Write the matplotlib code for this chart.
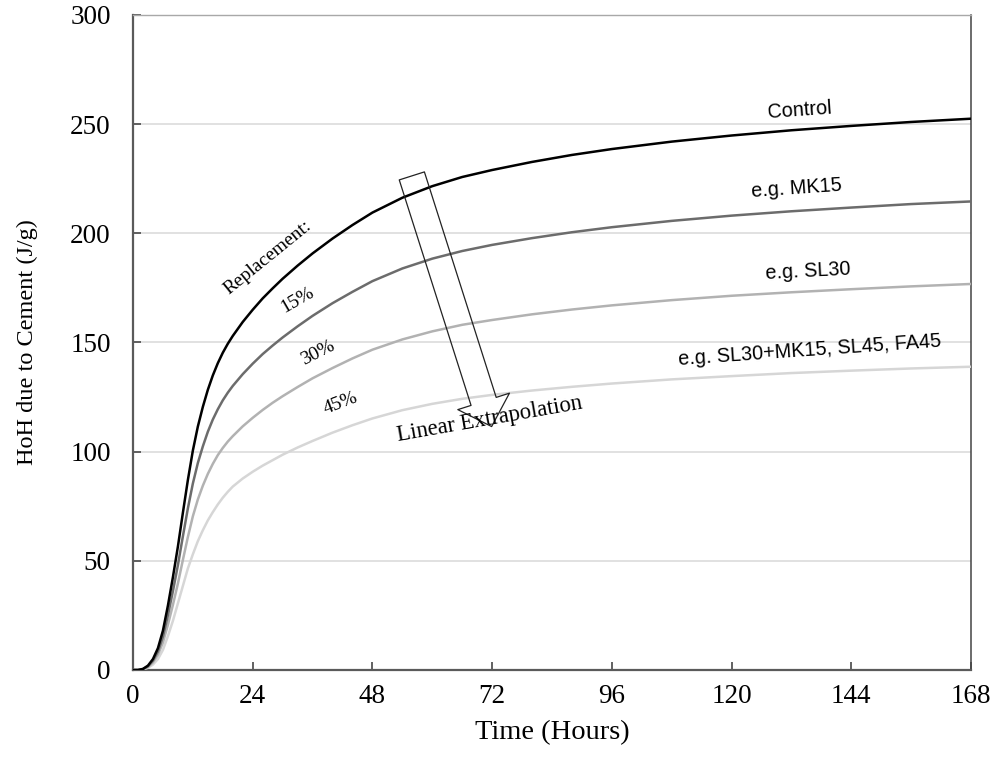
import matplotlib
matplotlib.use('Agg')
import matplotlib.pyplot as plt
from matplotlib.patches import FancyArrowPatch

# Heat of hydration due to cement (J/g) vs time (hours)
hours = [0, 1, 2, 3, 4, 5, 6, 7, 8, 9, 10, 11, 12, 13, 14, 15, 16, 17, 18, 19, 20,
         22, 24, 26, 28, 30, 33, 36, 40, 44, 48, 54, 60, 66, 72, 80, 88, 96,
         108, 120, 132, 144, 156, 168]

control = [0, 0, 0.5, 2, 5, 10, 18, 29.5, 42.5, 56.5, 72, 87, 100.5, 111.5, 120.5, 128.3,
           134.9, 140.5, 145.3, 149.4, 153.0, 159.4, 165.0, 170.2, 174.8, 179.2, 185.2,
           190.8, 197.6, 203.8, 209.5, 216.3, 221.6, 225.8, 229.0, 232.7, 235.9, 238.6,
           242.0, 244.8, 247.2, 249.2, 251.0, 252.5]

mk15 = [0, 0, 0.4, 1.7, 4.3, 8.5, 15.3, 25.1, 36.1, 48.0, 61.2, 74.0, 85.4, 94.8, 102.4,
        109.1, 114.7, 119.4, 123.5, 127.0, 130.1, 135.5, 140.3, 144.7, 148.6, 152.3, 157.4,
        162.2, 168.0, 173.2, 178.1, 183.9, 188.4, 191.9, 194.7, 197.8, 200.5, 202.8, 205.7,
        208.1, 210.1, 211.8, 213.4, 214.6]

sl30 = [0, 0, 0.35, 1.4, 3.5, 7.0, 12.6, 20.7, 29.8, 39.6, 50.4, 60.9, 70.4, 78.1, 84.4,
        89.8, 94.4, 98.4, 101.7, 104.6, 107.1, 111.6, 115.5, 119.1, 122.4, 125.4, 129.6,
        133.6, 138.3, 142.7, 146.7, 151.4, 155.1, 158.1, 160.3, 162.9, 165.1, 167.0, 169.4,
        171.4, 173.0, 174.4, 175.7, 176.8]

r45 = [0, 0, 0.25, 1.0, 2.5, 5.0, 9.2, 15.5, 22.5, 30.5, 38.5, 46.5, 53.0, 59.0, 64.0, 68.5,
       72.3, 75.8, 78.9, 81.6, 84.0, 87.7, 90.8, 93.6, 96.1, 98.6, 101.9, 104.9, 108.7,
       112.1, 115.2, 119.0, 121.9, 124.2, 126.0, 128.0, 129.7, 131.2, 133.1, 134.6, 136.0,
       137.1, 138.1, 138.9]

series = [r45, sl30, mk15, control]
colors = ['#d6d6d6', '#b2b2b2', '#6c6c6c', '#000000']

x_ticks = [0, 24, 48, 72, 96, 120, 144, 168]
y_ticks = [0, 50, 100, 150, 200, 250, 300]

serif = 'Liberation Serif'
sans = 'Liberation Sans'

fig = plt.figure(figsize=(9.97, 7.65), dpi=100)
ax = fig.add_axes([0.1334, 0.1242, 0.8405, 0.8562])

for vals, c in zip(series, colors):
    ax.plot(hours, vals, color=c, lw=1.8, solid_capstyle='round', solid_joinstyle='round', zorder=3)

ax.set_xlim(0, 168)
ax.set_ylim(0, 300)
ax.set_xticks(x_ticks)
ax.set_yticks(y_ticks)
ax.yaxis.grid(True, color='#dcdcdc', lw=1.2)
ax.set_axisbelow(True)

ax.tick_params(direction='in', length=6, width=1.3, color='#555555')
ax.tick_params(axis='y', pad=16, labelsize=19.5)
ax.tick_params(axis='x', pad=10, labelsize=19.5)
for lab in ax.get_xticklabels() + ax.get_yticklabels():
    lab.set_fontfamily(serif)

for side in ['left', 'bottom']:
    ax.spines[side].set_color('#5a5a5a')
    ax.spines[side].set_linewidth(1.6)
ax.spines['top'].set_color('#a8a8a8')
ax.spines['top'].set_linewidth(1.0)
ax.spines['right'].set_color('#444444')
ax.spines['right'].set_linewidth(1.1)

ax.set_xlabel('Time (Hours)', fontsize=20.5, family=serif, labelpad=8)
ax.set_ylabel('HoH due to Cement (J/g)', fontsize=17.5, family=serif, labelpad=23)

# series names
ax.text(133.7, 256.5, 'Control', fontsize=14.3, family=sans, rotation=4, ha='center', va='center')
ax.text(133.1, 220.5, 'e.g. MK15', fontsize=14.3, family=sans, rotation=4, ha='center', va='center')
ax.text(135.3, 182.5, 'e.g. SL30', fontsize=14.3, family=sans, rotation=3, ha='center', va='center')
ax.text(135.7, 146.5, 'e.g. SL30+MK15, SL45, FA45', fontsize=14.3, family=sans, rotation=4,
        ha='center', va='center')

# replacement levels
ax.text(27.1, 188.7, 'Replacement:', fontsize=14, family=serif, rotation=39, ha='center', va='center')
ax.text(32.9, 169.5, '15%', fontsize=14, family=serif, rotation=30, ha='center', va='center')
ax.text(37.1, 145.2, '30%', fontsize=14, family=serif, rotation=27, ha='center', va='center')
ax.text(41.7, 122.3, '45%', fontsize=14, family=serif, rotation=21, ha='center', va='center')

# hollow arrow for the extrapolation direction
arrow = FancyArrowPatch((55.9, 226.3), (71.9, 111.5),
                        arrowstyle='simple,head_width=39,head_length=19,tail_width=19',
                        facecolor='none', edgecolor='#222222', lw=0.9,
                        shrinkA=0, shrinkB=0, zorder=4)
ax.add_patch(arrow)
ax.text(71.6, 114.8, 'Linear Extrapolation', fontsize=16.3, family=serif, rotation=10,
        ha='center', va='center', zorder=5)

fig.savefig('out.png', dpi=100)
